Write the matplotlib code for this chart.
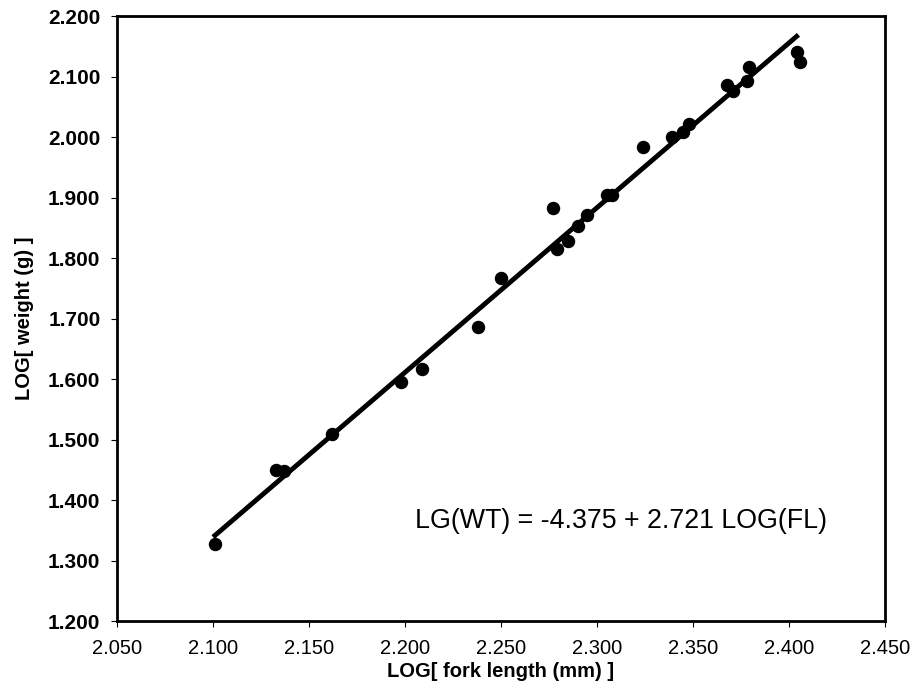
import numpy as np
import matplotlib
matplotlib.use("Agg")
import matplotlib.pyplot as plt
from matplotlib.ticker import FormatStrFormatter

plt.rcParams['font.family'] = ['Liberation Sans', 'DejaVu Sans']

# log fork length vs log weight
log_fl = [2.101, 2.133, 2.137, 2.162, 2.198, 2.209, 2.238, 2.250, 2.277,
          2.279, 2.285, 2.290, 2.295, 2.305, 2.308, 2.324, 2.339, 2.345,
          2.348, 2.368, 2.371, 2.378, 2.379, 2.404, 2.406]
log_wt = [1.327, 1.450, 1.448, 1.509, 1.595, 1.616, 1.686, 1.767, 1.883,
          1.815, 1.828, 1.853, 1.871, 1.905, 1.904, 1.983, 2.000, 2.008,
          2.022, 2.086, 2.076, 2.093, 2.116, 2.140, 2.124]

# regression line
intercept = -4.375
slope = 2.721
fit_x = np.array([2.100, 2.405])
fit_y = intercept + slope * fit_x

x_ticks = np.arange(2.05, 2.451, 0.05)
y_ticks = np.arange(1.2, 2.201, 0.1)

fig = plt.figure(figsize=(9.15, 6.98), dpi=100)
ax = fig.add_axes([0.128, 0.110, 0.839, 0.867])

ax.plot(fit_x, fit_y, color='black', linewidth=3.5, solid_capstyle='butt', zorder=2)
ax.scatter(log_fl, log_wt, s=75, color='black', zorder=3)

ax.set_xlim(2.05, 2.45)
ax.set_ylim(1.2, 2.2)
ax.set_xticks(x_ticks)
ax.set_yticks(y_ticks)
ax.xaxis.set_major_formatter(FormatStrFormatter('%.3f'))
ax.yaxis.set_major_formatter(FormatStrFormatter('%.3f'))
ax.tick_params(axis='x', labelsize=14.5, length=4, direction='out', width=0.8, pad=9)
ax.tick_params(axis='y', labelsize=15, length=4, direction='out', width=0.8, pad=8)
for lbl in ax.get_yticklabels():
    lbl.set_fontweight('bold')

for s in ax.spines.values():
    s.set_linewidth(2)

ax.set_xlabel('LOG[ fork length (mm) ]', fontsize=14.5, fontweight='bold', labelpad=3)
ax.set_ylabel('LOG[ weight (g) ]', fontsize=14.5, fontweight='bold', labelpad=10)

ax.text(2.205, 1.365, 'LG(WT) = -4.375 + 2.721 LOG(FL)', fontsize=19.3,
        va='center', ha='left')

fig.savefig('out.png', dpi=100)
